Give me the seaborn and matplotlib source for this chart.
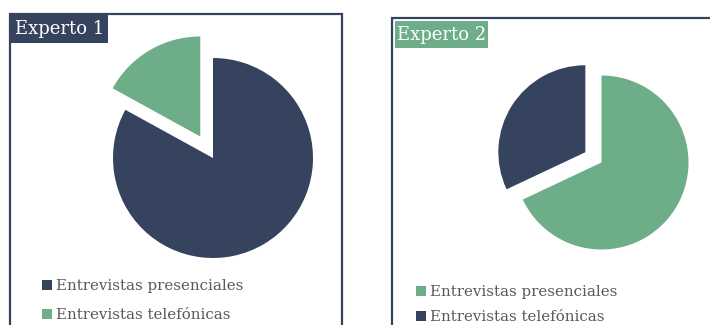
import matplotlib
matplotlib.use("Agg")
import matplotlib.pyplot as plt
import seaborn as sns
from matplotlib.patches import Rectangle, Patch

# ---- data ----
categories = ["Entrevistas presenciales", "Entrevistas telefónicas"]
experto1_values = [83, 17]
experto2_values = [68, 32]
titles = ["Experto 1", "Experto 2"]

NAVY = "#36435F"
GREEN = "#6DAE88"
TEXT = "#595959"

sns.set_theme(style="white")
plt.rcParams['font.family'] = ['DejaVu Serif']

W, H = 710, 325
fig = plt.figure(figsize=(W / 100, H / 100), dpi=100)
fig.patch.set_facecolor("white")


def frac(x0, y0, x1, y1):
    """pixel box (y from top) -> figure fraction [l, b, w, h]"""
    return [x0 / W, 1 - y1 / H, (x1 - x0) / W, (y1 - y0) / H]


def add_pie(values, colors, explode, cx, cy, r):
    lim = 1.3
    half = lim * r
    ax = fig.add_axes(frac(cx - half, cy - half, cx + half, cy + half))
    ax.pie(values, colors=colors, explode=explode, startangle=90,
           counterclock=False, radius=1, wedgeprops=dict(linewidth=0))
    ax.set_xlim(-lim, lim)
    ax.set_ylim(-lim, lim)
    ax.set_aspect('equal')
    ax.axis('off')
    return ax


def add_box(x0, y0, x1, y1, **kw):
    l, b, w, h = frac(x0, y0, x1, y1)
    rect = Rectangle((l, b), w, h, transform=fig.transFigure, **kw)
    fig.add_artist(rect)


def add_title(text, x0, y0, x1, y1, color):
    add_box(x0, y0, x1, y1, facecolor=color, edgecolor="none", zorder=2)
    fig.text((x0 + x1) / 2 / W, 1 - (y0 + y1) / 2 / H, text, color="white",
             fontsize=13, ha="center", va="center", zorder=3)


def add_legend(colors, x, y, spacing):
    handles = [Patch(facecolor=c, edgecolor="none", label=lab)
               for c, lab in zip(colors, categories)]
    fig.legend(handles=handles, loc="upper left",
               bbox_to_anchor=(x / W, 1 - y / H), frameon=False,
               fontsize=10.8, handlelength=0.65, handleheight=0.65,
               handletextpad=0.3, labelspacing=spacing, borderpad=0,
               borderaxespad=0, labelcolor=TEXT)


# panel frames
add_box(10, 14, 341.5, 340, facecolor="none", edgecolor=NAVY, linewidth=1.6, zorder=1)
add_box(392, 18, 730, 340, facecolor="none", edgecolor=NAVY, linewidth=1.6, zorder=1)

# pies
add_pie(experto1_values, [NAVY, GREEN], [0, 0.25], 213, 158, 100)
add_pie(experto2_values, [GREEN, NAVY], [0, 0.22], 601.5, 162.5, 87)

# titles
add_title(titles[0], 11, 15, 108, 43, NAVY)
add_title(titles[1], 395, 21, 488, 48, GREEN)

# legends
add_legend([NAVY, GREEN], 42, 279, 1.0)
add_legend([GREEN, NAVY], 416, 285, 0.75)

fig.savefig("out.png", dpi=100, facecolor="white")
